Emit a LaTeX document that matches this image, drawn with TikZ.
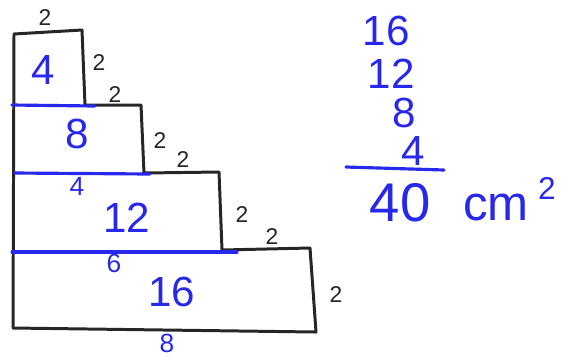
\documentclass[tikz,border=0pt]{standalone}
\usepackage{fontspec}
\setmainfont{Liberation Sans}
\definecolor{inkblue}{RGB}{40,40,235}
\begin{document}
\begin{tikzpicture}[
    x=0.02cm, y=-0.02cm,
    every node/.style={inner sep=0.5pt},
    edge/.style={draw=black!85, line width=1.7pt, line join=round, line cap=round},
    cut/.style={draw=inkblue, line width=1.8pt, line cap=round},
    side/.style={text=black!85, font=\fontsize{13}{13}\selectfont},
    big/.style={text=inkblue, font=\fontsize{24}{24}\selectfont},
    small/.style={text=inkblue, font=\fontsize{15}{15}\selectfont}
]
\useasboundingbox (0,0) rectangle (573,360);

% outline of the steps
\draw[edge] (14,34) -- (82,30) -- (85,105) -- (141,105) -- (144,173)
    -- (219,172) -- (222,250) -- (310,248) -- (316,332) -- (13,328) -- cycle;

% cuts
\draw[cut] (12,105) -- (95,106);
\draw[cut] (15,173) -- (150,174);
\draw[cut] (12,252) -- (237,252);

% side lengths
\node (t1) [side] at (45,18)   {2};
\node (s1) [side] at (99,63)   {2};
\node (t2) [side] at (115,95)  {2};
\node (s2) [side] at (160,141) {2};
\node (t3) [side] at (183,160) {2};
\node (s3) [side] at (242,215) {2};
\node (t4) [side] at (272,237) {2};
\node (s4) [side] at (336,295) {2};

% areas and widths
\node (a1) [big]   at (43,70)   {4};
\node (a2) [big]   at (77,134)  {8};
\node (w2) [small] at (77,186)  {4};
\node (a3) [big]   at (127,218) {12};
\node (w3) [small] at (114,263) {6};
\node (a4) [big]   at (172,292) {16};
\node (w4) [small] at (167,343) {8};

% sum
\node (r1) [big] at (386,31)  {16};
\node (r2) [big] at (391,74)  {12};
\node (r3) [big] at (404,113) {8};
\node (r4) [big] at (413,151) {4};
\coordinate (bl) at (346,167);
\coordinate (br) at (444,170);
\draw[cut] (bl) -- (br);
\node (tot)  [big, font=\fontsize{31}{31}\selectfont] at (400,203) {40};
\node (unit) [big, font=\fontsize{28}{28}\selectfont] at (496,207) {cm};
\node (sq)   [small, font=\fontsize{18}{18}\selectfont] at (547,188) {2};

\end{tikzpicture}
\end{document}
